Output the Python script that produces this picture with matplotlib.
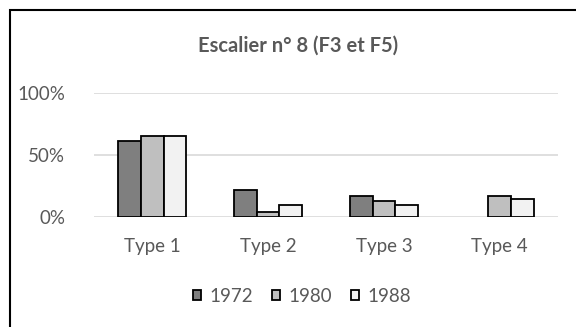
import matplotlib
matplotlib.use("Agg")
import matplotlib.pyplot as plt
import numpy as np
from matplotlib.patches import Rectangle

# Répartition des types de logement, escalier n° 8
categories = ["Type 1", "Type 2", "Type 3", "Type 4"]
annees = ["1972", "1980", "1988"]
v1972 = [0.61, 0.22, 0.17, 0.0]
v1980 = [0.65, 0.04, 0.13, 0.17]
v1988 = [0.65, 0.10, 0.10, 0.15]
yticks = [0, 0.5, 1.0]
ytick_labels = ["0%", "50%", "100%"]

COULEURS = ["#7f7f7f", "#bfbfbf", "#f2f2f2"]
TEXTE = "#595959"
GRILLE = "#d9d9d9"

plt.rcParams["font.family"] = ["Lato", "DejaVu Sans"]

fig = plt.figure(figsize=(5.76, 3.27), dpi=100)
ax = fig.add_axes([0.1637, 0.3355, 0.8045, 0.381])

x = np.arange(len(categories))
larg = 0.195
for i, (vals, coul, an) in enumerate(zip([v1972, v1980, v1988], COULEURS, annees)):
    barres = ax.bar(x + (i - 1) * larg, vals, width=larg, color=coul,
                    edgecolor="black", linewidth=1.3, label=an, zorder=3)
    # pas de contour pour les valeurs nulles
    for b, v in zip(barres, vals):
        if v == 0:
            b.set_linewidth(0)

ax.set_xlim(-0.5, len(categories) - 0.5)
ax.set_ylim(0, 1.0)
ax.set_yticks(yticks)
ax.set_yticklabels(ytick_labels)
ax.set_xticks(x)
ax.set_xticklabels(categories)
ax.yaxis.grid(True, color=GRILLE, linewidth=1.2, zorder=0)
ax.tick_params(length=0, labelsize=13.5, colors=TEXTE)
ax.tick_params(axis="y", pad=21)
ax.tick_params(axis="x", pad=15)
for s in ax.spines.values():
    s.set_visible(False)

fig.text(298 / 576, 1 - 46 / 327, "Escalier n° 8 (F3 et F5)", ha="center",
         va="center", fontsize=14.5, fontweight="bold", color=TEXTE)

leg = ax.legend(loc="center", bbox_to_anchor=(302 / 576, 1 - 296 / 327),
                bbox_transform=fig.transFigure, ncol=3, frameon=False,
                fontsize=13.5, handlelength=0.42, handleheight=0.42,
                handletextpad=0.45, columnspacing=1.0, borderpad=0)
for t in leg.get_texts():
    t.set_color(TEXTE)

# cadre du graphique
fig.patches.append(Rectangle((9.5 / 576, -0.1), 1.2, 1 - 10 / 327 + 0.1,
                             transform=fig.transFigure, fill=False,
                             edgecolor="black", linewidth=1.5))

fig.savefig("out.png", dpi=100)
